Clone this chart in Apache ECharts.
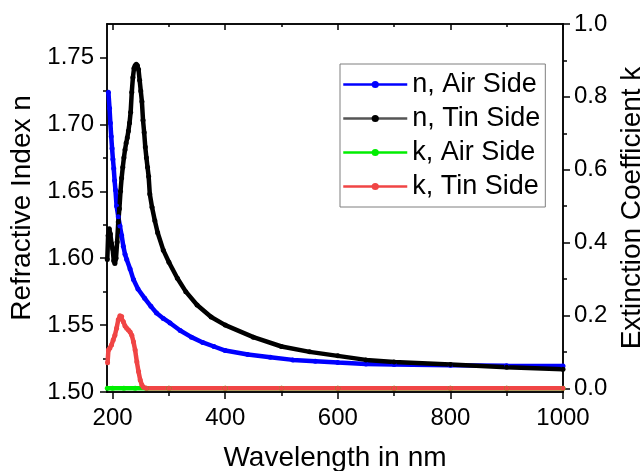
<!DOCTYPE html>
<html>
<head>
<meta charset="utf-8">
<title>Refractive index and extinction coefficient</title>
<script src="https://cdn.jsdelivr.net/npm/echarts@6/dist/echarts.min.js"></script>
<style>
  html, body { margin: 0; padding: 0; background: #fff; }
  #chart { width: 642px; height: 471px; }
</style>
</head>
<body>
<div id="chart"></div>
<script>
// n, air side
var nAirWl  = [192.5, 194.5, 196, 197.5, 199, 200.5, 202, 203.5, 205, 207, 210, 213, 216, 219, 222, 225, 231, 237, 245, 257,
               268, 278, 290, 302, 320, 340, 360, 380, 400, 440, 480, 520, 560, 600, 650, 700, 800, 900, 1000];
var nAirVal = [1.724, 1.712, 1.701, 1.691, 1.682, 1.674, 1.667, 1.658, 1.651, 1.639, 1.631, 1.624, 1.617, 1.609, 1.603, 1.599, 1.592, 1.584, 1.577, 1.570,
               1.564, 1.559, 1.555, 1.5516, 1.546, 1.541, 1.537, 1.534, 1.531, 1.528, 1.526, 1.524, 1.523, 1.522, 1.521, 1.5205, 1.5200, 1.5197, 1.5195];

// n, tin side
var nTinWl  = [190.5, 192, 194, 196, 198, 200, 202, 204, 206, 208, 210, 212, 214, 216, 218, 220, 222, 224, 226, 228,
               230, 232, 234, 236, 238, 240, 242, 244, 246, 248, 250, 252, 254, 256, 258, 260, 262, 264, 266, 270,
               275, 280, 290, 300, 315, 330, 350, 375, 400, 450, 500, 550, 600, 650, 700, 800, 900, 1000];
var nTinVal = [1.599, 1.617, 1.622, 1.618, 1.611, 1.607, 1.598, 1.596, 1.600, 1.612, 1.627, 1.637, 1.650, 1.660, 1.668, 1.675, 1.681, 1.686, 1.690, 1.695,
               1.701, 1.709, 1.724, 1.735, 1.742, 1.744, 1.745, 1.744, 1.741, 1.733, 1.725, 1.717, 1.703, 1.694, 1.683, 1.675, 1.668, 1.661, 1.648, 1.638,
               1.628, 1.619, 1.606, 1.597, 1.585, 1.575, 1.565, 1.556, 1.550, 1.541, 1.534, 1.530, 1.527, 1.524, 1.5225, 1.5205, 1.5185, 1.517];

// k, air side
var kAirWl  = [190.5, 200, 220, 240, 260, 300, 400, 500, 600, 700, 800, 900, 1000];
var kAirVal = [0, 0, 0, 0, 0, 0, 0, 0, 0, 0, 0, 0, 0];

// k, tin side
var kTinWl  = [191, 192.5, 195, 198, 201, 204, 207, 210, 213, 216, 219, 222, 225, 228, 231, 234, 237, 240, 243, 246,
               249, 252, 255, 260, 300, 400, 500, 600, 700, 800, 900, 1000];
var kTinVal = [0.070, 0.105, 0.110, 0.119, 0.133, 0.146, 0.165, 0.188, 0.199, 0.197, 0.183, 0.171, 0.165, 0.160, 0.155, 0.146, 0.128, 0.105, 0.073, 0.046,
               0.023, 0.009, 0.003, 0, 0, 0, 0, 0, 0, 0, 0, 0];

var xMajor = [200, 400, 600, 800, 1000];
var xMinor = [300, 500, 700, 900];
var nMajor = [1.50, 1.55, 1.60, 1.65, 1.70, 1.75];
var nMinor = [1.525, 1.575, 1.625, 1.675, 1.725];
var kMajor = [0, 0.2, 0.4, 0.6, 0.8, 1.0];
var kMinor = [0.1, 0.3, 0.5, 0.7, 0.9];

var FONT = 'Liberation Sans, Arial, sans-serif';
var axisLine = { show: true, onZero: false, lineStyle: { color: '#000', width: 1.5 } };

function pairs(xs, ys) {
    return xs.map(function (x, i) { return [x, ys[i]]; });
}

function tickAxis(extra) {
    var base = {
        type: 'value',
        axisLine: axisLine,
        splitLine: { show: false },
        axisLabel: { show: false },
        axisTick: { show: false }
    };
    return Object.assign(base, extra);
}

var chart = echarts.init(document.getElementById('chart'));

var lineSeries = function (name, xs, ys, color, yIdx) {
    return {
        name: name,
        type: 'line',
        xAxisIndex: 0,
        yAxisIndex: yIdx,
        data: pairs(xs, ys),
        symbol: 'circle',
        symbolSize: 5,
        showAllSymbol: true,
        lineStyle: { color: color, width: 4.5 },
        itemStyle: { color: color, borderWidth: 0 },
        emphasis: { disabled: true }
    };
};

var option = {
    animation: false,
    grid: { left: 107, right: 79, top: 24, bottom: 79, containLabel: false, outerBoundsMode: 'none' },
    xAxis: [
        tickAxis({
            position: 'bottom', min: 190, max: 1000,
            name: 'Wavelength in nm', nameLocation: 'middle', nameGap: 52,
            nameTextStyle: { fontSize: 28, fontFamily: FONT, color: '#000' },
            axisTick: { show: true, inside: false, length: 7, customValues: xMajor, lineStyle: { color: '#000', width: 1.5 } },
            axisLabel: {
                show: true, customValues: xMajor, fontSize: 24, fontFamily: FONT, color: '#000', margin: 14,
                formatter: function (v) { return String(v); }
            }
        }),
        tickAxis({
            position: 'bottom', min: 190, max: 1000,
            axisTick: { show: true, inside: false, length: 4, customValues: xMinor, lineStyle: { color: '#000', width: 1.5 } }
        }),
        tickAxis({
            position: 'top', min: 190, max: 1000,
            axisTick: { show: true, inside: true, length: 6, customValues: xMajor, lineStyle: { color: '#000', width: 1.5 } }
        }),
        tickAxis({
            position: 'top', min: 190, max: 1000,
            axisTick: { show: true, inside: true, length: 3, customValues: xMinor, lineStyle: { color: '#000', width: 1.5 } }
        })
    ],
    yAxis: [
        tickAxis({
            position: 'left', min: 1.5, max: 1.775, interval: 0.05,
            name: 'Refractive Index n', nameLocation: 'middle', nameGap: 60,
            nameTextStyle: { fontSize: 28, fontFamily: FONT, color: '#000' },
            axisTick: { show: true, inside: false, length: 7, customValues: nMajor, lineStyle: { color: '#000', width: 1.5 } },
            axisLabel: {
                show: true, showMaxLabel: false, fontSize: 24, fontFamily: FONT, color: '#000', margin: 13,
                formatter: function (v) { return v > 1.76 ? '' : v.toFixed(2); }
            }
        }),
        tickAxis({
            position: 'left', min: 1.5, max: 1.775,
            axisTick: { show: true, inside: false, length: 4, customValues: nMinor, lineStyle: { color: '#000', width: 1.5 } }
        }),
        tickAxis({
            position: 'right', min: -0.01, max: 1.0,
            name: 'Extinction Coefficient k', nameLocation: 'middle', nameGap: 48,
            nameTextStyle: { fontSize: 28, fontFamily: FONT, color: '#000' },
            axisTick: { show: true, inside: false, length: 7, customValues: kMajor, lineStyle: { color: '#000', width: 1.5 } },
            axisLabel: {
                show: true, customValues: kMajor, fontSize: 24, fontFamily: FONT, color: '#000', margin: 11,
                formatter: function (v) { return v.toFixed(1); }
            }
        }),
        tickAxis({
            position: 'right', min: -0.01, max: 1.0,
            axisTick: { show: true, inside: false, length: 4, customValues: kMinor, lineStyle: { color: '#000', width: 1.5 } }
        })
    ],
    legend: {
        orient: 'vertical',
        left: 340, top: 64,
        padding: [7, 5, 7, 2],
        itemGap: 7,
        itemWidth: 64,
        itemHeight: 9,
        borderColor: '#7f7f7f',
        borderWidth: 1,
        backgroundColor: '#fff',
        textStyle: { fontSize: 27, lineHeight: 27, fontFamily: FONT, color: '#000' },
        data: [
            { name: 'n, Air Side', lineStyle: { width: 2.5 } },
            { name: 'n, Tin Side', lineStyle: { width: 2.5, color: '#555' } },
            { name: 'k, Air Side', lineStyle: { width: 2.5 } },
            { name: 'k, Tin Side', lineStyle: { width: 2.5 } }
        ]
    },
    series: [
        lineSeries('n, Air Side', nAirWl, nAirVal, '#0000ff', 0),
        lineSeries('n, Tin Side', nTinWl, nTinVal, '#000000', 0),
        lineSeries('k, Air Side', kAirWl, kAirVal, '#00ee00', 2),
        lineSeries('k, Tin Side', kTinWl, kTinVal, '#f04545', 2)
    ]
};

chart.setOption(option);
</script>
</body>
</html>
